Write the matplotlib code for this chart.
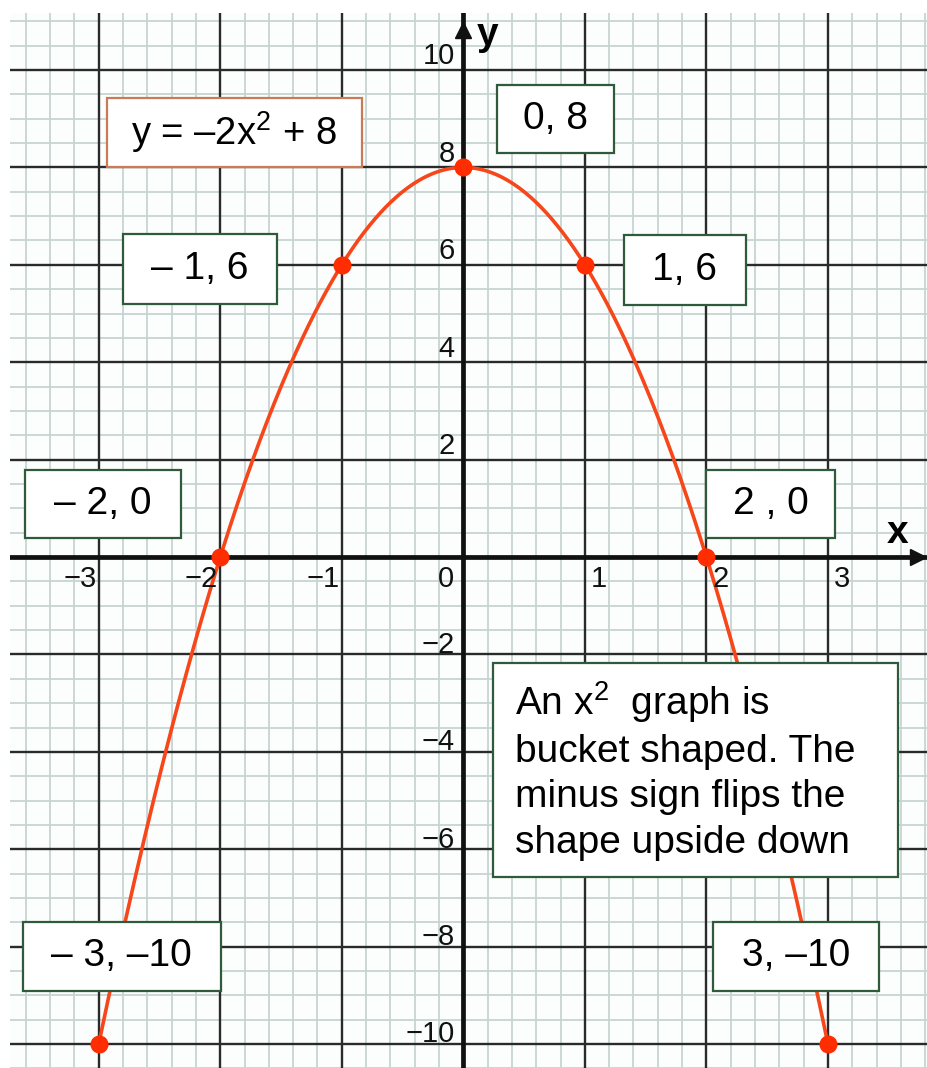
"""Graph of y = -2x^2 + 8 on squared paper with labelled points."""
import matplotlib
matplotlib.use('Agg')
import matplotlib.pyplot as plt
from matplotlib.patches import Rectangle
import numpy as np

plt.rcParams['font.family'] = ['Liberation Sans', 'DejaVu Sans']
plt.rcParams['mathtext.fontset'] = 'custom'
plt.rcParams['mathtext.rm'] = 'Liberation Sans'
plt.rcParams['mathtext.it'] = 'Liberation Sans:italic'

# y = a x^2 + c
a, c = -2, 8
equation = 'y = –2x$^{2}$ + 8'

pt_x = [-3, -2, -1, 0, 1, 2, 3]
pt_y = [-10, 0, 6, 8, 6, 0, -10]
pt_labels = ['– 3, –10', '– 2, 0', '– 1, 6', '0, 8', '1, 6', '2 , 0', '3, –10']

x_ticks = [-3, -2, -1, 0, 1, 2, 3]
x_ticklabels = ['−3', '−2', '−1', '0', '1', '2', '3']
y_ticks = [10, 8, 6, 4, 2, 0, -2, -4, -6, -8, -10]
y_ticklabels = ['10', '8', '6', '4', '2', '0', '−2', '−4', '−6', '−8', '−10']

note = ('An x$^{2}$  graph is\nbucket shaped. The\n'
        'minus sign flips the\nshape upside down')

# label box layout (centre x, centre y, width, height), same order as pt_labels
box_layout = [(-2.81, -8.20, 1.63, 1.42), (-2.963, 1.09, 1.28, 1.40),
              (-2.169, 5.91, 1.27, 1.44), (0.757, 8.99, 0.96, 1.40),
              (1.823, 5.89, 1.00, 1.44), (2.527, 1.09, 1.06, 1.40),
              (2.737, -8.20, 1.37, 1.42)]

fig = plt.figure(figsize=(9.27, 10.68), dpi=100)
ax = fig.add_axes([10 / 927, 0, 917 / 927, 1055 / 1068])
ax.set_xlim(-3.73, 3.815)
ax.set_ylim(-10.49, 11.17)
ax.set_facecolor('#fbfefd')
for s in ax.spines.values():
    s.set_visible(False)
ax.set_xticks([])
ax.set_yticks([])

# squared paper
for gx in np.arange(-3.6, 3.81, 0.2):
    ax.axvline(gx, color='#c8d4d1', lw=1.3, zorder=1)
for gy in np.arange(-10.5, 11.01, 0.5):
    ax.axhline(gy, color='#c8d4d1', lw=1.3, zorder=1)
for gx in x_ticks:
    ax.axvline(gx, color='#2a2a2a', lw=1.7, zorder=2)
for gy in y_ticks:
    ax.axhline(gy, color='#2a2a2a', lw=1.7, zorder=2)

# axes with arrows
ax.axhline(0, color='#111111', lw=3.4, zorder=3)
ax.axvline(0, color='#111111', lw=3.4, zorder=3)
ax.plot(0, 10.82, marker='^', ms=11.5, color='#111111', zorder=3, clip_on=False)
ax.plot(3.74, 0, marker='>', ms=11.5, color='#111111', zorder=3, clip_on=False)
ax.text(3.576, 0.49, 'x', fontsize=28, fontweight='bold', ha='center', va='center', zorder=6)
ax.text(0.2, 10.72, 'y', fontsize=28, fontweight='bold', ha='center', va='center', zorder=6)

# tick numbers
tick_font = dict(fontsize=21, color='#111111', va='center', zorder=6)
for tx, tl in zip(x_ticks, x_ticklabels):
    if tx < 0:
        ax.text(tx - 0.02, -0.45, tl, ha='right', **tick_font)
    elif tx == 0:
        ax.text(-0.08, -0.45, tl, ha='right', **tick_font)
    else:
        ax.text(tx + 0.05, -0.45, tl, ha='left', **tick_font)
for ty, tl in zip(y_ticks, y_ticklabels):
    if ty == 0:
        continue
    dy = 0.28 if ty > 0 else 0.2
    ax.text(-0.07, ty + dy, tl, ha='right', **tick_font)

# the parabola and its plotted points
xs = np.linspace(min(pt_x), max(pt_x), 400)
ax.plot(xs, a * xs ** 2 + c, color='#f6461a', lw=2.6, zorder=4)
ax.plot(pt_x, pt_y, 'o', color='#ff2d00', ms=12, zorder=7, clip_on=False)

# coordinate boxes
for lab, (cx, cy, w, h) in zip(pt_labels, box_layout):
    ax.add_patch(Rectangle((cx - w / 2, cy - h / 2), w, h, facecolor='white',
                           edgecolor='#2f5a3c', lw=1.6, zorder=5))
    ax.text(cx, cy, lab, fontsize=28, ha='center', va='center', zorder=6)

# equation box
ax.add_patch(Rectangle((-1.885 - 1.05, 8.72 - 0.71), 2.10, 1.42, facecolor='white',
                       edgecolor='#cc7a55', lw=1.6, zorder=5))
ax.text(-1.885, 8.72, equation, fontsize=27.5, ha='center', va='center', zorder=6)

# explanation box
ax.add_patch(Rectangle((0.243, -6.57), 3.333, 4.39, facecolor='white',
                       edgecolor='#2f5a3c', lw=1.6, zorder=5))
ax.text(0.424, -4.37, note, fontsize=28, ha='left', va='center',
        linespacing=1.33, zorder=6)

plt.savefig('out.png', dpi=100)
plt.close()
